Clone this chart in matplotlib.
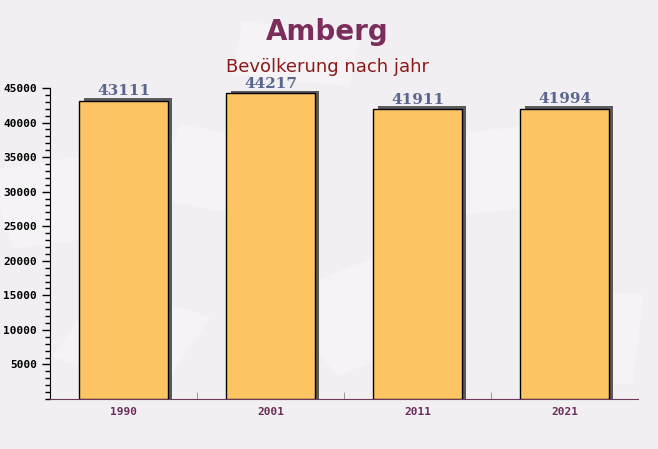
import matplotlib.pyplot as plt
from matplotlib.ticker import MultipleLocator, FixedLocator, NullFormatter
import numpy as np

years = ['1990', '2001', '2011', '2021']
population = [43111, 44217, 41911, 41994]

fig = plt.figure(figsize=(6.58, 4.49), dpi=100)
fig.patch.set_facecolor('#f2eff2')

# faint paper-like shapes in the background
bg = fig.add_axes([0, 0, 1, 1], zorder=-1)
bg.set_axis_off()
bg.set_xlim(0, 1)
bg.set_ylim(0, 1)
for (cx, cy, w, h, ang) in [(0.08, 0.55, 0.16, 0.18, 12), (0.33, 0.62, 0.16, 0.17, -15),
                            (0.55, 0.3, 0.2, 0.2, 30), (0.75, 0.62, 0.18, 0.18, 10),
                            (0.45, 0.88, 0.18, 0.12, -8), (0.9, 0.25, 0.14, 0.2, -5),
                            (0.2, 0.25, 0.18, 0.18, -25)]:
    r = plt.Rectangle((cx - w / 2, cy - h / 2), w, h, angle=ang, rotation_point='center',
                      facecolor='white', alpha=0.3, edgecolor='none')
    bg.add_patch(r)

ax = fig.add_axes([0.076, 0.1114, 0.8936, 0.6926])
ax.patch.set_alpha(0)

x = np.arange(len(years))
# shadow
ax.bar(x + 0.028, np.array(population) + 420, width=0.6, color='#5a5a5a', zorder=2)
ax.bar(x, population, width=0.6, color='#fdc463', edgecolor='black',
       linewidth=1, zorder=3)

for xi, v in zip(x, population):
    ax.annotate(str(v), (xi, v), xytext=(0, 2), textcoords='offset points',
                ha='center', va='bottom', fontsize=11, fontweight='bold',
                family='DejaVu Serif', color='#5a6690', zorder=4)

ax.set_xlim(-0.5, 3.5)
ax.set_ylim(0, 45000)

ax.yaxis.set_major_locator(FixedLocator(range(5000, 45001, 5000)))
ax.yaxis.set_minor_locator(MultipleLocator(1000))
ax.tick_params(axis='y', which='major', length=6, width=1, color='black')
ax.tick_params(axis='y', which='minor', length=3.5, width=1, color='black')
for lbl in ax.get_yticklabels():
    lbl.set_family('DejaVu Sans Mono')
    lbl.set_fontweight('bold')
    lbl.set_fontsize(8)

ax.set_xticks(x)
ax.set_xticklabels(years, family='DejaVu Sans Mono', fontweight='bold',
                   fontsize=8, color='#6b2d5b')
ax.tick_params(axis='x', which='major', length=0, pad=6)
ax.xaxis.set_minor_locator(FixedLocator([0.5, 1.5, 2.5]))
ax.xaxis.set_minor_formatter(NullFormatter())
ax.tick_params(axis='x', which='minor', direction='in', length=5, color='#888888')

ax.spines['top'].set_visible(False)
ax.spines['right'].set_visible(False)
ax.spines['left'].set_color('black')
ax.spines['bottom'].set_color('#6b3a5a')

fig.text(0.497, 0.928, 'Amberg', ha='center', va='center', fontsize=20,
         fontweight='bold', color='#7b2d5b')
fig.text(0.497, 0.85, 'Bevölkerung nach jahr', ha='center', va='center',
         fontsize=13, color='#8b1a1a')

fig.savefig('out.png', dpi=100, facecolor=fig.get_facecolor())
